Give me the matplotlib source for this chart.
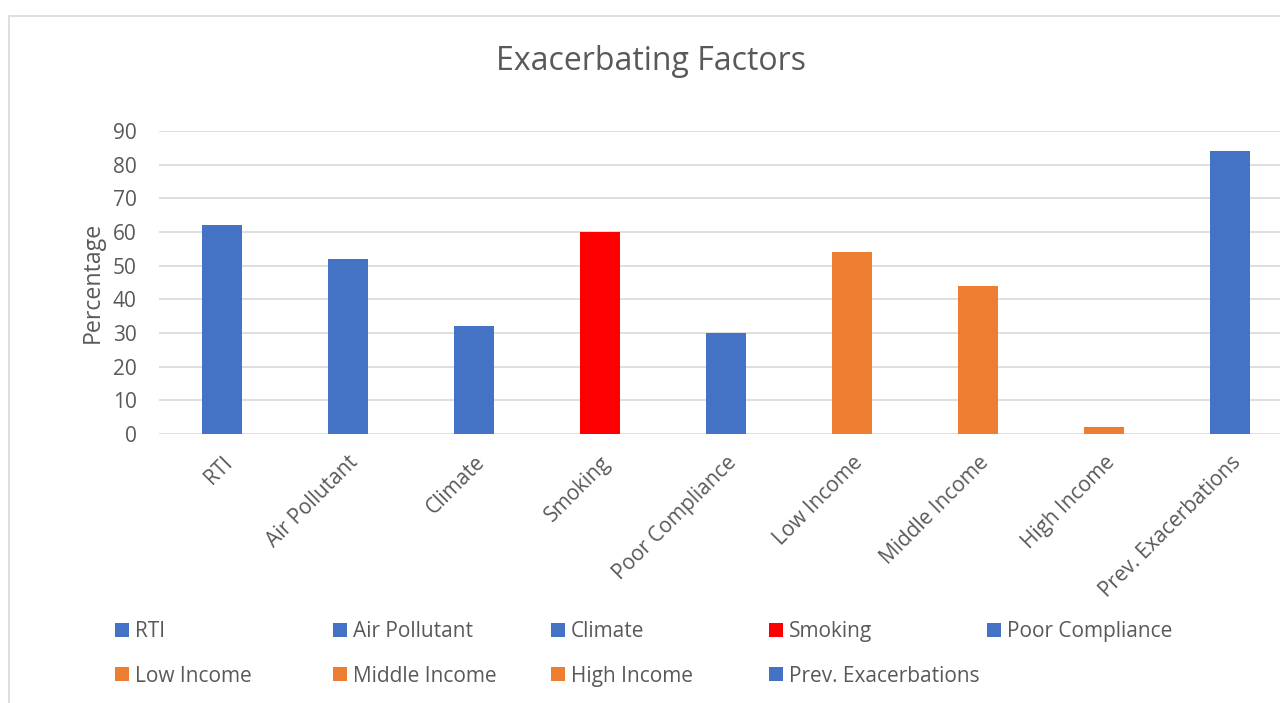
import matplotlib
matplotlib.use("Agg")
import matplotlib.pyplot as plt
from matplotlib.patches import Patch, Rectangle

categories = ["RTI", "Air Pollutant", "Climate", "Smoking", "Poor Compliance",
              "Low Income", "Middle Income", "High Income", "Prev. Exacerbations"]
values = [62, 52, 32, 60, 30, 54, 44, 2, 84]
bar_colors = ["#4472C4", "#4472C4", "#4472C4", "#FF0000", "#4472C4",
              "#ED7D31", "#ED7D31", "#ED7D31", "#4472C4"]
y_ticks = [0, 10, 20, 30, 40, 50, 60, 70, 80, 90]

TEXT = "#595959"
GRID = "#D9D9D9"
plt.rcParams["font.family"] = ["Open Sans", "DejaVu Sans"]

W, H = 1280, 703
fig = plt.figure(figsize=(W / 100, H / 100), dpi=100)

# chart-area border
fig.patches.append(Rectangle((9 / W, -0.1), 1.2, (703 - 16) / H + 0.1,
                             transform=fig.transFigure, fill=False,
                             edgecolor=GRID, linewidth=1.2))

left, right, bottom, top = 159, 1293, 434, 131
ax = fig.add_axes([left / W, 1 - bottom / H, (right - left) / W, (bottom - top) / H])

x = list(range(len(categories)))
bars = ax.bar(x, values, width=0.315, color=bar_colors, zorder=3)
for b, lab in zip(bars, categories):
    b.set_label(lab)

ax.set_xlim(-0.5, len(categories) - 0.5)
ax.set_ylim(0, 90)
ax.set_yticks(y_ticks)
ax.yaxis.grid(True, color=GRID, linewidth=1.2, zorder=0)
ax.set_axisbelow(True)
for s in ax.spines.values():
    s.set_visible(False)
ax.tick_params(axis="both", length=0, colors=TEXT, labelsize=15)
ax.tick_params(axis="y", pad=16)
ax.set_xticks(x)
ax.set_xticklabels(categories, rotation=45, ha="right", va="top",
                   rotation_mode="anchor")
ax.tick_params(axis="x", pad=13)
ax.set_ylabel("Percentage", color=TEXT, fontsize=16.7, labelpad=6)

fig.text(651 / W, 1 - 61 / H, "Exacerbating Factors", ha="center", va="center",
         color=TEXT, fontsize=23)

# legend: five equal-width columns, two rows
ncols = 5
col_x = [115, 333, 551, 769, 987]
for c in range(ncols):
    idx = [i for i in (c, c + ncols) if i < len(categories)]
    handles = [Patch(facecolor=bar_colors[i], edgecolor="none") for i in idx]
    labels = [categories[i] for i in idx]
    fig.legend(handles, labels, loc="upper left",
               bbox_to_anchor=(col_x[c] / W, 1 - 621 / H),
               frameon=False, fontsize=15, labelcolor=TEXT,
               handlelength=0.65, handleheight=0.65, handletextpad=0.3,
               labelspacing=1.14, borderpad=0, borderaxespad=0)

fig.savefig("out.png", dpi=100)
